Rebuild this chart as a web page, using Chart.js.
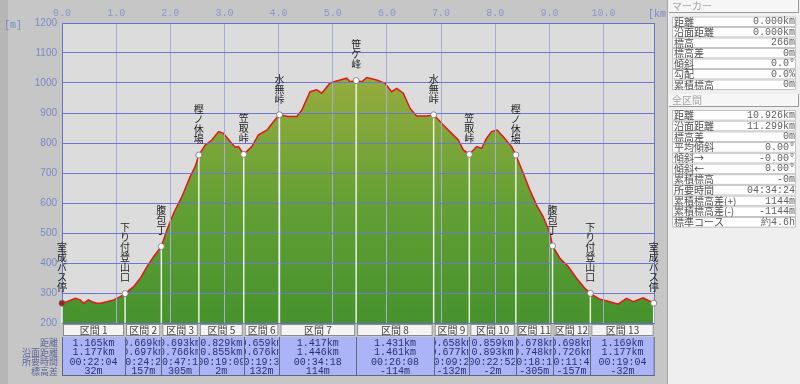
<!DOCTYPE html>
<html>
<head>
<meta charset="utf-8">
<script src="https://cdn.jsdelivr.net/npm/chart.js@4.4.1/dist/chart.umd.min.js"></script>
<style>
  html, body { margin: 0; padding: 0; background: #c6c6c6; overflow: hidden; }
  canvas { display: block; }
</style>
</head>
<body>
<canvas id="profile" width="800" height="384"></canvas>
<script>
// profile (distance km / elevation m)
const distKm = [0, 0.092, 0.245, 0.338, 0.399, 0.491, 0.553, 0.645, 0.707, 0.830, 0.953, 1.076, 1.165,
  1.322, 1.445, 1.568, 1.691, 1.834, 1.937, 2.060, 2.214, 2.367, 2.459, 2.527, 2.644, 2.767, 2.890,
  2.982, 3.105, 3.197, 3.259, 3.356, 3.505, 3.628, 3.782, 3.905, 4.015, 4.181, 4.335, 4.428, 4.581,
  4.704, 4.797, 4.950, 5.135, 5.258, 5.319, 5.432, 5.534, 5.627, 5.811, 5.965, 6.088, 6.180, 6.303,
  6.426, 6.549, 6.734, 6.863, 7.041, 7.195, 7.318, 7.410, 7.521, 7.656, 7.749, 7.841, 7.933, 8.037,
  8.148, 8.302, 8.380, 8.517, 8.640, 8.763, 8.886, 9.009, 9.058, 9.194, 9.347, 9.501, 9.655, 9.756,
  9.932, 10.117, 10.270, 10.424, 10.547, 10.731, 10.926];
const elevM = [266, 271, 282, 277, 266, 277, 271, 266, 266, 271, 277, 288, 298,
  321, 349, 388, 421, 455, 510, 566, 621, 688, 721, 760, 793, 810, 838,
  832, 805, 786, 788, 762, 788, 827, 843, 871, 894, 888, 888, 910, 971,
  977, 966, 1000, 1010, 1016, 1004, 1008, 1004, 1018, 1010, 999, 971, 982, 966,
  916, 890, 890, 894, 860, 832, 810, 777, 762, 788, 782, 816, 838, 843,
  821, 788, 760, 699, 643, 593, 554, 500, 457, 416, 388, 349, 316, 299,
  279, 271, 263, 282, 271, 284, 266];

// waypoints
const wpKm = [0, 1.165, 1.834, 2.527, 3.356, 4.015, 5.432, 6.863, 7.521, 8.380, 9.058, 9.756, 10.926];
const wpElev = [266, 298, 455, 760, 762, 894, 1008, 894, 762, 760, 457, 299, 266];
const wpName = ['室成バス停', '下り付登山口', '腹包丁', '樫ノ休場', '笠取峠', '水無峠', '笹ケ峰',
  '水無峠', '笠取峠', '樫ノ休場', '腹包丁', '下り付登山口', '室成バス停'];

// section table
const segName = ['区間 1', '区間 2', '区間 3', '区間 5', '区間 6', '区間 7', '区間 8', '区間 9',
  '区間 10', '区間 11', '区間 12', '区間 13'];
const segDist = ['1.165km', '0.669km', '0.693km', '0.829km', '0.659km', '1.417km', '1.431km',
  '0.658km', '0.859km', '0.678km', '0.698km', '1.169km'];
const segSurf = ['1.177km', '0.697km', '0.766km', '0.855km', '0.676km', '1.446km', '1.461km',
  '0.677km', '0.893km', '0.748km', '0.726km', '1.177km'];
const segTime = ['00:22:04', '00:24:21', '00:47:11', '00:19:09', '00:19:39', '00:34:18', '00:26:08',
  '00:09:26', '00:22:52', '00:18:18', '00:11:44', '00:19:04'];
const segDiff = ['32m', '157m', '305m', '2m', '132m', '114m', '-114m', '-132m', '-2m', '-305m',
  '-157m', '-32m'];
const rowLabels = ['距離', '沿面距離', '所要時間', '標高差'];

// side panel
const markerLabels = ['距離', '沿面距離', '標高', '標高差', '傾斜', '勾配', '累積標高'];
const markerValues = ['0.000km', '0.000km', '266m', '0m', '0.0°', '0.0%', '0m'];
const totalLabels = ['距離', '沿面距離', '標高差', '平均傾斜', '傾斜→', '傾斜←', '累積標高',
  '所要時間', '累積標高差(+)', '累積標高差(-)', '標準コース'];
const totalValues = ['10.926km', '11.299km', '0m', '0.00°', '-0.00°', '0.00°', '-0m',
  '04:34:24', '1144m', '-1144m', '約4.6h'];

const jpFont = '"Noto Sans CJK JP", sans-serif';
const monoFont = '"Liberation Mono", "DejaVu Sans Mono", monospace';

const points = distKm.map((d, i) => ({ x: d, y: elevM[i] }));

// backgrounds behind everything
const backdrop = {
  id: 'backdrop',
  beforeDraw(chart) {
    const ctx = chart.ctx;
    const a = chart.chartArea;
    ctx.save();
    ctx.fillStyle = '#c6c6c6';
    ctx.fillRect(0, 0, 800, 384);
    ctx.fillStyle = '#b6b6b6';
    ctx.fillRect(0, 0, 8, 384);
    ctx.fillStyle = '#dcdcdc';
    ctx.fillRect(a.left, a.top, a.right - a.left, a.bottom - a.top);
    ctx.restore();
  }
};

function vertText(ctx, text, cx, bottom) {
  const pitch = 10;
  const chars = Array.from(text);
  let y = bottom - (chars.length - 1) * pitch;
  chars.forEach(ch => {
    ctx.fillText(ch, cx, y);
    y += pitch;
  });
}

function cellText(ctx, text, x0, x1, y) {
  ctx.save();
  ctx.beginPath();
  ctx.rect(x0 + 1, y - 8, x1 - x0 - 2, 16);
  ctx.clip();
  ctx.fillText(text, (x0 + x1) / 2, y);
  ctx.restore();
}

const overlay = {
  id: 'overlay',
  afterDraw(chart) {
    const ctx = chart.ctx;
    const xs = chart.scales.x;
    const ys = chart.scales.y;
    const a = chart.chartArea;
    ctx.save();

    // plot frame
    ctx.strokeStyle = '#6a72c8';
    ctx.lineWidth = 1;
    ctx.strokeRect(a.left + 0.5, a.top + 0.5, a.right - a.left - 1, a.bottom - a.top);

    // waypoint drop lines, dots and names
    wpKm.forEach((km, i) => {
      const px = xs.getPixelForValue(km);
      const py = ys.getPixelForValue(wpElev[i]);
      ctx.strokeStyle = 'rgba(240,246,236,0.95)';
      ctx.lineWidth = 1.5;
      ctx.beginPath();
      ctx.moveTo(px, py);
      ctx.lineTo(px, a.bottom);
      ctx.stroke();
    });
    wpKm.forEach((km, i) => {
      const px = xs.getPixelForValue(km);
      const py = ys.getPixelForValue(wpElev[i]);
      ctx.beginPath();
      ctx.arc(px, py, 3, 0, Math.PI * 2);
      ctx.fillStyle = i === 0 ? '#a02020' : '#ffffff';
      ctx.fill();
      ctx.strokeStyle = '#707070';
      ctx.lineWidth = 0.8;
      ctx.stroke();
      ctx.fillStyle = '#1e1e1e';
      ctx.font = '10px ' + jpFont;
      ctx.textAlign = 'center';
      ctx.textBaseline = 'middle';
      vertText(ctx, wpName[i], px, py - 16);
    });

    // axis unit labels
    ctx.fillStyle = '#7a88c8';
    ctx.font = '10px ' + monoFont;
    ctx.textAlign = 'left';
    ctx.textBaseline = 'middle';
    ctx.fillText('[m]', 4, 25);
    ctx.fillText('[km]', 648, 14);

    // section table
    const top = a.bottom;
    const hdrH = 14;
    const bodyTop = top + hdrH;
    const bodyBottom = 376;
    const x0 = xs.getPixelForValue(wpKm[0]);
    const x1 = xs.getPixelForValue(wpKm[wpKm.length - 1]) + 1;
    ctx.fillStyle = '#aab4f6';
    ctx.fillRect(x0, bodyTop, x1 - x0, bodyBottom - bodyTop);
    for (let i = 0; i < segName.length; i++) {
      const sx0 = xs.getPixelForValue(wpKm[i]);
      const sx1 = i === segName.length - 1 ? x1 : xs.getPixelForValue(wpKm[i + 1]);
      ctx.fillStyle = '#f4f4f4';
      ctx.fillRect(sx0 + 1, top + 1, sx1 - sx0 - 2, hdrH - 2);
      ctx.strokeStyle = '#8a8a8a';
      ctx.lineWidth = 1;
      ctx.strokeRect(sx0 + 1.5, top + 1.5, sx1 - sx0 - 3, hdrH - 3);
      ctx.fillStyle = '#404040';
      ctx.font = '10px ' + jpFont;
      ctx.textAlign = 'center';
      ctx.textBaseline = 'middle';
      cellText(ctx, segName[i], sx0, sx1, top + hdrH / 2);

      ctx.strokeStyle = '#606880';
      ctx.beginPath();
      ctx.moveTo(Math.round(sx0) + 0.5, bodyTop);
      ctx.lineTo(Math.round(sx0) + 0.5, bodyBottom);
      ctx.stroke();

      ctx.fillStyle = '#2c3070';
      ctx.font = '10px ' + monoFont;
      cellText(ctx, segDist[i], sx0, sx1, bodyTop + 6);
      cellText(ctx, segSurf[i], sx0, sx1, bodyTop + 15.5);
      cellText(ctx, segTime[i], sx0, sx1, bodyTop + 25);
      cellText(ctx, segDiff[i], sx0, sx1, bodyTop + 34.5);
    }
    ctx.strokeStyle = '#606880';
    ctx.beginPath();
    ctx.moveTo(x1 - 0.5, bodyTop);
    ctx.lineTo(x1 - 0.5, bodyBottom);
    ctx.moveTo(x0, bodyBottom - 0.5);
    ctx.lineTo(x1, bodyBottom - 0.5);
    ctx.stroke();

    ctx.fillStyle = '#5a6496';
    ctx.font = '9px ' + jpFont;
    ctx.textAlign = 'right';
    rowLabels.forEach((t, i) => {
      ctx.fillText(t, 58, bodyTop + 6 + i * 9.5);
    });

    // side panel
    ctx.fillStyle = '#efefef';
    ctx.fillRect(668, 0, 132, 384);
    ctx.strokeStyle = '#a8a8a8';
    ctx.beginPath();
    ctx.moveTo(667.5, 0);
    ctx.lineTo(667.5, 384);
    ctx.stroke();

    drawHeader(ctx, 'マーカー', 0);
    drawList(ctx, markerLabels, markerValues, 16.5, 10.5);
    drawHeader(ctx, '全区間', 94);
    drawList(ctx, totalLabels, totalValues, 110, 10.7);

    ctx.restore();
  }
};

function drawHeader(ctx, text, y) {
  ctx.fillStyle = '#f6f6f6';
  ctx.fillRect(669, y, 129, 12);
  ctx.strokeStyle = '#9a9a9a';
  ctx.lineWidth = 1;
  ctx.beginPath();
  ctx.moveTo(669, y + 12.5);
  ctx.lineTo(798.5, y + 12.5);
  ctx.lineTo(798.5, y);
  ctx.stroke();
  ctx.fillStyle = '#a4a4a4';
  ctx.font = '10px ' + jpFont;
  ctx.textAlign = 'left';
  ctx.textBaseline = 'middle';
  ctx.fillText(text, 672, y + 6);
}

function drawList(ctx, labels, values, top, rowH) {
  labels.forEach((lab, i) => {
    const y = top + i * rowH;
    ctx.fillStyle = '#ffffff';
    ctx.fillRect(672, y, 124, rowH - 1);
    ctx.strokeStyle = '#c4c4c4';
    ctx.strokeRect(672.5, y + 0.5, 123, rowH - 1);
    ctx.fillStyle = '#505050';
    ctx.font = '10px ' + jpFont;
    ctx.textAlign = 'left';
    ctx.textBaseline = 'middle';
    ctx.fillText(lab, 674, y + rowH / 2);
    ctx.fillStyle = '#606060';
    ctx.font = '10px ' + monoFont;
    ctx.textAlign = 'right';
    ctx.fillText(values[i], 795, y + rowH / 2);
  });
}

function greenFill(context) {
  const chart = context.chart;
  const a = chart.chartArea;
  if (!a) return '#6a9e36';
  const g = chart.ctx.createLinearGradient(0, a.top, 0, a.bottom);
  g.addColorStop(0, '#a4b446');
  g.addColorStop(0.25, '#8eaa3c');
  g.addColorStop(0.6, '#64a034');
  g.addColorStop(1, '#46922c');
  return g;
}

const chart = new Chart(document.getElementById('profile'), {
  type: 'line',
  data: {
    datasets: [{
      data: points,
      borderColor: '#e01818',
      borderWidth: 1.5,
      backgroundColor: greenFill,
      fill: 'start',
      pointRadius: 0,
      tension: 0
    }]
  },
  options: {
    responsive: false,
    animation: false,
    devicePixelRatio: 1,
    layout: { padding: { left: 0, right: 145, top: 0, bottom: 61 } },
    plugins: { legend: { display: false }, tooltip: { enabled: false } },
    scales: {
      x: {
        type: 'linear',
        position: 'top',
        min: 0,
        max: 10.95,
        afterFit(scale) { scale.height = 23; },
        afterBuildTicks(scale) {
          scale.ticks = scale.ticks.filter(t => Math.abs(t.value - Math.round(t.value)) < 1e-6);
        },
        ticks: {
          stepSize: 1,
          color: '#8896cc',
          font: { family: monoFont, size: 10 },
          padding: 4,
          maxRotation: 0,
          callback: v => v.toFixed(1)
        },
        grid: { color: '#a6acd8', drawTicks: false, z: 1 },
        border: { display: false }
      },
      y: {
        min: 200,
        max: 1200,
        afterFit(scale) { scale.width = 62; },
        ticks: {
          stepSize: 100,
          color: '#7a88c8',
          font: { family: '"Liberation Sans", sans-serif', size: 10 },
          padding: 5,
          callback: v => String(v)
        },
        grid: { color: '#6e76d0', drawTicks: false, z: 1 },
        border: { display: false }
      }
    }
  },
  plugins: [backdrop, overlay]
});
</script>
</body>
</html>
